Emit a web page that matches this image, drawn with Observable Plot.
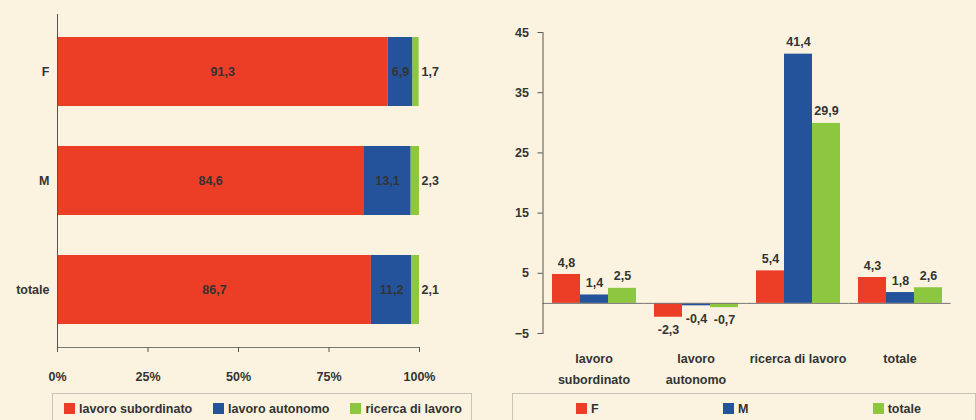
<!DOCTYPE html>
<html>
<head>
<meta charset="utf-8">
<script src="https://cdn.jsdelivr.net/npm/d3@7"></script>
<script src="https://cdn.jsdelivr.net/npm/@observablehq/plot@0.6"></script>
<style>
  html, body { margin: 0; padding: 0; background: #fbf3df; }
  body { width: 976px; height: 420px; overflow: hidden; font-family: "Liberation Sans", Arial, sans-serif; }
  #wrap { display: flex; }
  #left { width: 480px; }
  #right { width: 496px; }
  .lgbox { border: 1px solid #c9c4b6; border-bottom: none; height: 30px; box-sizing: border-box;
           display: flex; align-items: center; justify-content: space-between; font-size: 12.5px; font-weight: bold; color: #333; }
  .lgbox .it { display: flex; align-items: center; }
  .lgbox .sw { width: 11px; height: 11px; margin-right: 4px; }
</style>
</head>
<body>
<div id="wrap">
  <div id="left"></div>
  <div id="right"></div>
</div>
<script>
// ---------- data ----------
const rows = ["F", "M", "totale"];
const typesLeft = ["lavoro subordinato", "lavoro autonomo", "ricerca di lavoro"];
const subordinato = [91.3, 84.6, 86.7];
const autonomo = [6.9, 13.1, 11.2];
const ricerca = [1.7, 2.3, 2.1];
const xTicksLeft = [0, 25, 50, 75, 100];

const categories = ["lavoro subordinato", "lavoro autonomo", "ricerca di lavoro", "totale"];
const categoryLabels = ["lavoro\nsubordinato", "lavoro\nautonomo", "ricerca di lavoro", "totale"];
const seriesRight = ["F", "M", "totale"];
const valF = [4.8, -2.3, 5.4, 4.3];
const valM = [1.4, -0.4, 41.4, 1.8];
const valTot = [2.5, -0.7, 29.9, 2.6];
const yTicksRight = [-5, 5, 15, 25, 35, 45];

const colorsLeft = ["#ec3d26", "#25539b", "#8dc63f"];
const colorsRight = ["#ec3d26", "#25539b", "#8dc63f"];

const fmt = v => v.toFixed(1).replace(".", ",");
const font = "Liberation Sans, Arial, sans-serif";
const txt = "#333";
const fs = 12.5;

// ---------- left chart ----------
const leftData = [];
rows.forEach((r, i) => {
  [subordinato, autonomo, ricerca].forEach((arr, j) => {
    leftData.push({row: r, type: typesLeft[j], value: arr[i]});
  });
});

const left = Plot.plot({
  width: 480, height: 390,
  marginLeft: 57, marginRight: 61, marginTop: 14, marginBottom: 43,
  style: {background: "transparent", fontFamily: font, fontSize: fs + "px", fontWeight: "bold", color: txt},
  x: {domain: [0, 100], ticks: xTicksLeft, tickFormat: d => d + "%", label: null},
  y: {domain: rows, paddingInner: 0.37, paddingOuter: 0.2, label: null},
  color: {domain: typesLeft, range: colorsLeft},
  marks: [
    Plot.barX(leftData, Plot.stackX({x: "value", y: "row", fill: "type", order: typesLeft})),
    Plot.text(leftData.filter(d => d.type !== "ricerca di lavoro"),
      Plot.stackX({x: "value", y: "row", z: "type", order: typesLeft, text: d => fmt(d.value), fill: txt, fontSize: fs})),
    Plot.text(leftData.filter(d => d.type === "ricerca di lavoro"),
      {x: 100, y: "row", text: d => fmt(d.value), textAnchor: "start", dx: 2, fill: txt, fontSize: fs}),
    Plot.ruleX([0], {stroke: "#555"}),
    Plot.frame({anchor: "bottom", stroke: "#777"}),
    Plot.axisX({ticks: xTicksLeft, tickFormat: d => d + "%", tickSize: 5, tickPadding: 20, stroke: "#555", fill: txt}),
    Plot.axisY({tickSize: 0, tickPadding: 8, fill: txt})
  ]
});
document.getElementById("left").appendChild(left);

// ---------- right chart ----------
const rightData = [];
categories.forEach((c, i) => {
  [valF, valM, valTot].forEach((arr, j) => {
    rightData.push({cat: c, series: seriesRight[j], value: arr[i]});
  });
});

const right = Plot.plot({
  width: 496, height: 390,
  marginLeft: 62, marginRight: 26, marginTop: 32, marginBottom: 57,
  style: {background: "transparent", fontFamily: font, fontSize: fs + "px", fontWeight: "bold", color: txt},
  fx: {domain: categories, paddingInner: 0.167, paddingOuter: 0.083, label: null},
  x: {domain: seriesRight, padding: 0, axis: null},
  y: {domain: [-5, 45], ticks: yTicksRight, label: null},
  color: {domain: seriesRight, range: colorsRight},
  marks: [
    Plot.barY(rightData, {fx: "cat", x: "series", y: "value", fill: "series"}),
    Plot.ruleY([0], {stroke: "#777", insetLeft: -8.5, insetRight: -8.5}),
    Plot.text(rightData.filter(d => d.value >= 0),
      {fx: "cat", x: "series", y: "value", text: d => fmt(d.value), lineAnchor: "bottom", dy: -8, fill: txt, fontSize: fs}),
    Plot.text(rightData.filter(d => d.value < 0),
      {fx: "cat", x: "series", y: "value", text: d => fmt(d.value), lineAnchor: "top", dy: 8, fill: txt, fontSize: fs}),
    Plot.frame({anchor: "left", facetAnchor: "left", stroke: "#555", dx: -8.5}),
    Plot.axisY({ticks: yTicksRight, tickSize: 5, tickPadding: 9, stroke: "#555", fill: txt, dx: -8.5}),
    Plot.axisFx({anchor: "bottom", tickSize: 0, tickPadding: 15, lineHeight: 1.65,
      tickFormat: d => categoryLabels[categories.indexOf(d)], fill: txt, label: null})
  ]
});
document.getElementById("right").appendChild(right);

// ---------- legends ----------
function legend(container, names, colors, styleStr) {
  const box = document.createElement("div");
  box.className = "lgbox";
  box.setAttribute("style", styleStr);
  names.forEach((n, i) => {
    const it = document.createElement("div");
    it.className = "it";
    const sw = document.createElement("div");
    sw.className = "sw";
    sw.style.background = colors[i];
    const t = document.createElement("span");
    t.textContent = n;
    it.appendChild(sw); it.appendChild(t);
    box.appendChild(it);
  });
  container.appendChild(box);
}
legend(document.getElementById("left"), typesLeft, colorsLeft,
  "margin: 3px 8px 0 52px; padding: 0 9px 0 11px;");
legend(document.getElementById("right"), seriesRight, colorsRight,
  "margin: 3px 0 0 32px; padding: 0 54px 0 63px;");
</script>
</body>
</html>
